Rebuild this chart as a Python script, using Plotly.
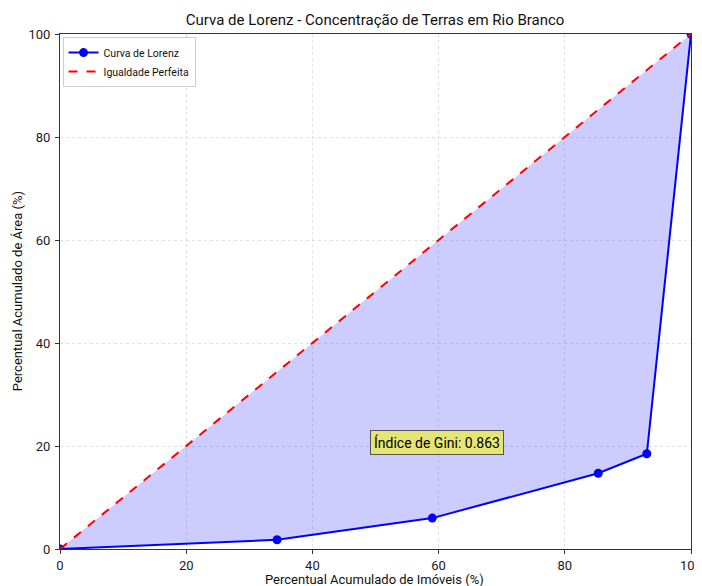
import plotly.graph_objects as go

pct_imoveis = [0, 34.4, 59.0, 85.3, 93.0, 100]
pct_area = [0, 1.8, 6.0, 14.7, 18.5, 100]
igual_x = [0, 100]
igual_y = [0, 100]
gini = 0.863
tick_vals = [0, 20, 40, 60, 80, 100]

FONT = "Roboto"

fig = go.Figure()
# shaded region between Lorenz curve and equality line
fig.add_trace(go.Scatter(x=pct_imoveis, y=pct_area, fill="toself",
                         fillcolor="rgba(0,0,255,0.2)", line=dict(width=0),
                         mode="lines", showlegend=False, hoverinfo="skip"))
fig.add_trace(go.Scatter(x=pct_imoveis, y=pct_area, mode="lines+markers",
                         name="Curva de Lorenz",
                         line=dict(color="#0000ff", width=2),
                         marker=dict(color="#0000ff", size=9)))
fig.add_trace(go.Scatter(x=igual_x, y=igual_y, mode="lines",
                         name="Igualdade Perfeita",
                         line=dict(color="#ff0000", width=2, dash="dash")))

fig.add_annotation(x=49.2, y=20.6, xref="x", yref="y", xanchor="left", yanchor="middle",
                   text=f"Índice de Gini: {gini:.3f}", showarrow=False,
                   font=dict(family=FONT, size=14, color="black"),
                   bgcolor="rgba(230,230,110,0.95)", bordercolor="#555555", borderwidth=1,
                   borderpad=3)

# axis titles
fig.add_annotation(x=0.499, y=-0.0595, xref="paper", yref="paper", xanchor="center",
                   yanchor="middle", showarrow=False,
                   text="Percentual Acumulado de Imóveis (%)",
                   font=dict(family=FONT, size=13, color="#111111"))
fig.add_annotation(x=-0.067, y=0.5, xref="paper", yref="paper", xanchor="center",
                   yanchor="middle", showarrow=False, textangle=-90,
                   text="Percentual Acumulado de Área (%)",
                   font=dict(family=FONT, size=13, color="#111111"))

axis_common = dict(range=[0, 100], tickvals=tick_vals, showline=True, linecolor="#333333",
                   linewidth=1.2, mirror=True, ticks="outside", ticklen=4, tickcolor="#333333",
                   showgrid=True, gridcolor="rgba(200,200,200,0.55)", griddash="dot", gridwidth=1,
                   zeroline=False, automargin=False,
                   tickfont=dict(family=FONT, size=13, color="#222222"))

fig.update_layout(
    width=694, height=578,
    margin=dict(l=52, r=11, t=26, b=37),
    paper_bgcolor="white", plot_bgcolor="white",
    title=dict(text="Curva de Lorenz - Concentração de Terras em Rio Branco",
               x=0.529, xanchor="center", y=0.979, yanchor="middle",
               font=dict(family=FONT, size=15, color="#111111")),
    xaxis=dict(**axis_common),
    yaxis=dict(**axis_common, ticklabelstandoff=2),
    legend=dict(x=0.004, y=0.994, xanchor="left", yanchor="top",
                bgcolor="rgba(255,255,255,0.9)", bordercolor="#cccccc", borderwidth=1,
                font=dict(family=FONT, size=10.5, color="#111111"), tracegroupgap=0, itemwidth=30),
    showlegend=True,
)

fig.write_html("out.html")
